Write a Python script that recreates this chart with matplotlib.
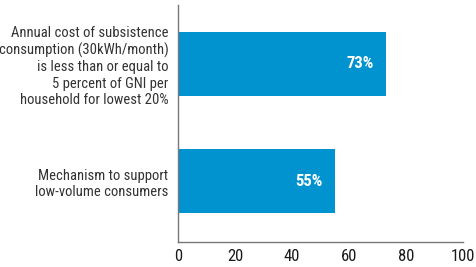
import matplotlib.pyplot as plt

# Datos
categorias = [
    "Mechanism to support\nlow-volume consumers",
    "Annual cost of subsistence\nconsumption (30kWh/month)\nis less than or equal to\n5 percent of GNI per\nhousehold for lowest 20%",
]
valores = [55, 73]
etiquetas = ["55%", "73%"]
ticks_x = [0, 20, 40, 60, 80, 100]

plt.rcParams["font.family"] = ["Roboto Condensed", "DejaVu Sans"]

fig = plt.figure(figsize=(4.76, 2.67), dpi=100)
ax = fig.add_axes([0.374, 0.094, 0.599, 0.887])

pos = list(range(len(valores)))
ax.barh(pos, valores, height=0.545, color="#0093d0")

# Etiquetas dentro de las barras
for p, v, t in zip(pos, valores, etiquetas):
    ax.text(v - 4.3, p, t, ha="right", va="center", color="white",
            fontsize=12, fontweight="bold")

ax.set_xlim(0, 100)
ax.set_ylim(-0.515, 1.50)
ax.set_xticks(ticks_x)
ax.set_yticks(pos)
ax.set_yticklabels(categorias, fontsize=10.5, color="#333333", linespacing=1.22)
ax.tick_params(axis="x", length=0, labelsize=12, labelcolor="#1a1a1a", pad=5)
ax.tick_params(axis="y", length=0, pad=7)

for s in ["top", "right"]:
    ax.spines[s].set_visible(False)
for s in ["left", "bottom"]:
    ax.spines[s].set_color("#777777")
    ax.spines[s].set_linewidth(1)

fig.savefig("out.png", dpi=100)
